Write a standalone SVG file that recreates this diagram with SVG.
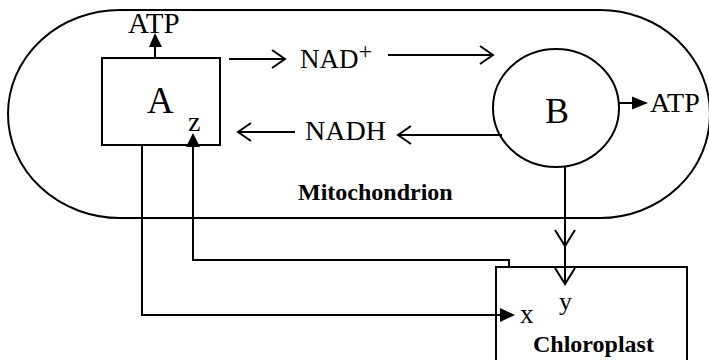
<svg xmlns="http://www.w3.org/2000/svg" width="709" height="360" viewBox="0 0 709 360">
<style>
.ln{fill:none;stroke:#000;stroke-width:2}
.t{font-family:"Liberation Serif","Times New Roman",serif;fill:#000}
.b{font-family:"Liberation Serif","Times New Roman",serif;font-weight:bold;fill:#000}
.fh{fill:#000;stroke:none}
</style>
<rect width="709" height="360" fill="#fff"/>
<g id="mitochondrion">
<path class="ln" d="M120 10 L600 10 A110 104 0 0 1 600 218 L120 218 A112 104 0 0 1 120 10 Z"/>
<text class="b" x="298" y="200" font-size="24">Mitochondrion</text>
</g>
<g id="chloroplast">
<path class="ln" d="M496 362 L496 267 L687 267 L687 362"/>
<text class="b" x="533" y="352" font-size="24">Chloroplast</text>
<text class="t" x="559" y="310" font-size="26">y</text>
<text class="t" x="520" y="323" font-size="27">x</text>
</g>
<g id="nodeA">
<rect class="ln" x="102" y="58" width="118" height="87"/>
<text class="t" x="147" y="113" font-size="37">A</text>
<text class="t" x="188" y="131" font-size="28">z</text>
</g>
<g id="nodeB">
<ellipse class="ln" cx="556" cy="108" rx="63" ry="59"/>
<text class="t" x="545" y="123" font-size="36">B</text>
</g>
<g id="labels">
<text class="t" x="128" y="33" font-size="29">ATP</text>
<text class="t" x="650" y="112" font-size="28">ATP</text>
<text class="t" x="300" y="68" font-size="27">NAD<tspan font-size="24" dy="-9">+</tspan></text>
<text class="t" x="305" y="140" font-size="28">NADH</text>
</g>
<g id="connectors">
<path class="ln" d="M155 58 L155 46"/>
<path class="fh" d="M155 33 L149 47 L162 47 Z"/>
<path class="ln" d="M619 103 L634 103"/>
<path class="fh" d="M648 103 L632 96.5 L632 109.5 Z"/>
<path class="ln" d="M229 59 L284 59 M272 50 L285 59 L272 68"/>
<path class="ln" d="M388 55 L492 55 M480 46 L493 55 L480 64"/>
<path class="ln" d="M295 132 L239 132 M251 123 L238 132 L251 141"/>
<path class="ln" d="M502 135 L399 135 M411 126 L398 135 L411 144"/>
<path class="ln" d="M565 167 L565 284 M555 230 L565 246 L575 230 M555 268 L565 284 L575 268"/>
<path class="ln" d="M142 145 L142 315 L502 315"/>
<path class="fh" d="M515 315 L500 308 L500 322 Z"/>
<path class="ln" d="M509 267 L509 260 L193 260 L193 146"/>
<path class="fh" d="M193 133 L186 147 L200 147 Z"/>
</g>
</svg>
